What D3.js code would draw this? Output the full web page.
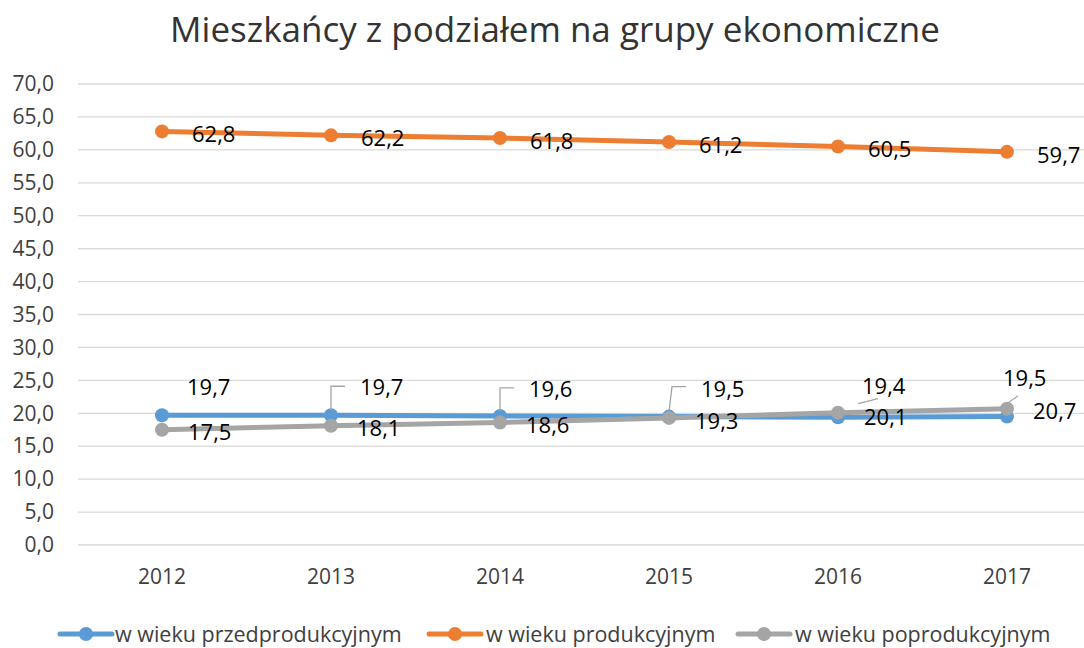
<!DOCTYPE html>
<html><head><meta charset="utf-8">
<script src="https://cdn.jsdelivr.net/npm/d3@7"></script>
<style>body{margin:0;background:#fff}svg{display:block}text{font-family:"Open Sans",sans-serif}</style>
</head><body>
<svg id="c" width="1084" height="648"></svg>
<script>
const years = ["2012","2013","2014","2015","2016","2017"];
const seriesNames = ["w wieku przedprodukcyjnym","w wieku produkcyjnym","w wieku poprodukcyjnym"];
const przed = [19.7,19.7,19.6,19.5,19.4,19.5];
const prod = [62.8,62.2,61.8,61.2,60.5,59.7];
const popr = [17.5,18.1,18.6,19.3,20.1,20.7];
const yTicks = [0,5,10,15,20,25,30,35,40,45,50,55,60,65,70];
const colors = ["#5B9BD5","#ED7D31","#A5A5A5"];
const title = "Mieszkańcy z podziałem na grupy ekonomiczne";

const svg = d3.select("#c");
const x = d3.scaleBand().domain(years).range([77.5,1091.5]);
const y = d3.scaleLinear().domain([0,70]).range([545,84]);
const fmt = v => v.toFixed(1).replace(".",",");

svg.append("text").attr("x",555).attr("y",42).attr("text-anchor","middle")
  .attr("font-size",35).attr("fill","#333").text(title);

svg.append("g").selectAll("line").data(yTicks).join("line")
  .attr("x1",78).attr("x2",1091).attr("y1",d=>y(d)).attr("y2",d=>y(d))
  .attr("stroke","#D9D9D9").attr("stroke-width",1.3);

const yAxis = svg.append("g").attr("transform","translate(54,0)")
  .call(d3.axisLeft(y).tickValues(yTicks).tickFormat(fmt).tickSize(0));
yAxis.select(".domain").remove();
yAxis.attr("font-size",21);
yAxis.selectAll("text").style("font-size","21px").attr("fill","#404040").attr("font-family","Open Sans, sans-serif").attr("x",0);

const xAxis = svg.append("g").attr("transform","translate(0,564)")
  .call(d3.axisBottom(x).tickSize(0));
xAxis.select(".domain").remove();
xAxis.attr("font-size",21);
xAxis.selectAll("text").style("font-size","21px").attr("fill","#404040").attr("font-family","Open Sans, sans-serif").attr("dy","0.8em");

const cx = d => x(d) + x.bandwidth()/2;
const data = [przed, prod, popr];
const line = d3.line().x((d,i)=>cx(years[i])).y(d=>y(d));

data.forEach((vals,si)=>{
  const g = svg.append("g");
  g.append("path").attr("d",line(vals)).attr("fill","none")
    .attr("stroke",colors[si]).attr("stroke-width",5).attr("stroke-linecap","round");
  g.selectAll("circle").data(vals).join("circle")
    .attr("cx",(d,i)=>cx(years[i])).attr("cy",d=>y(d)).attr("r",7).attr("fill",colors[si]);
});

const lab = svg.append("g").attr("font-size",22).attr("fill","#000");
prod.forEach((v,i)=>{
  lab.append("text").attr("x",cx(years[i])+30).attr("y",y(v)+3).attr("dy","0.35em").text(fmt(v));
});
popr.forEach((v,i)=>{
  lab.append("text").attr("x",cx(years[i])+26).attr("y",y(v)+(i===4?5:3)).attr("dy","0.35em").text(fmt(v));
});
const blueOff = [[25,-28],[29,-28],[29,-27],[32,-27],[24,-31],[-4,-38]];
const leaders = [null,[[0,-5],[0,-29],[14,-29]],[[0,-5],[0,-28],[14,-28]],[[0,-5],[3,-30],[17,-30]],[[20,-9],[40,-14]],[[0,-5],[11,-13]]];
przed.forEach((v,i)=>{
  const px = cx(years[i]), py = y(v);
  if(leaders[i]){
    const baseY = i>=4 ? y(popr[i]) : py;
    lab.append("path").attr("d",d3.line()(leaders[i].map(p=>[px+p[0],baseY+p[1]])))
      .attr("fill","none").attr("stroke","#A5A5A5").attr("stroke-width",1.3);
  }
  lab.append("text").attr("x",px+blueOff[i][0]).attr("y",py+blueOff[i][1]).attr("dy","0.35em").text(fmt(v));
});

const leg = [[58,115],[427,486],[736,795]];
seriesNames.forEach((n,i)=>{
  const g = svg.append("g");
  const [lx,tx] = leg[i];
  g.append("line").attr("x1",lx+2).attr("x2",lx+54).attr("y1",634).attr("y2",634)
    .attr("stroke",colors[i]).attr("stroke-width",5).attr("stroke-linecap","round");
  g.append("circle").attr("cx",lx+28).attr("cy",634).attr("r",7).attr("fill",colors[i]);
  g.append("text").attr("x",tx).attr("y",634).attr("dy","0.35em").attr("font-size",21.5).attr("fill","#404040").text(n);
});
</script>
</body></html>
